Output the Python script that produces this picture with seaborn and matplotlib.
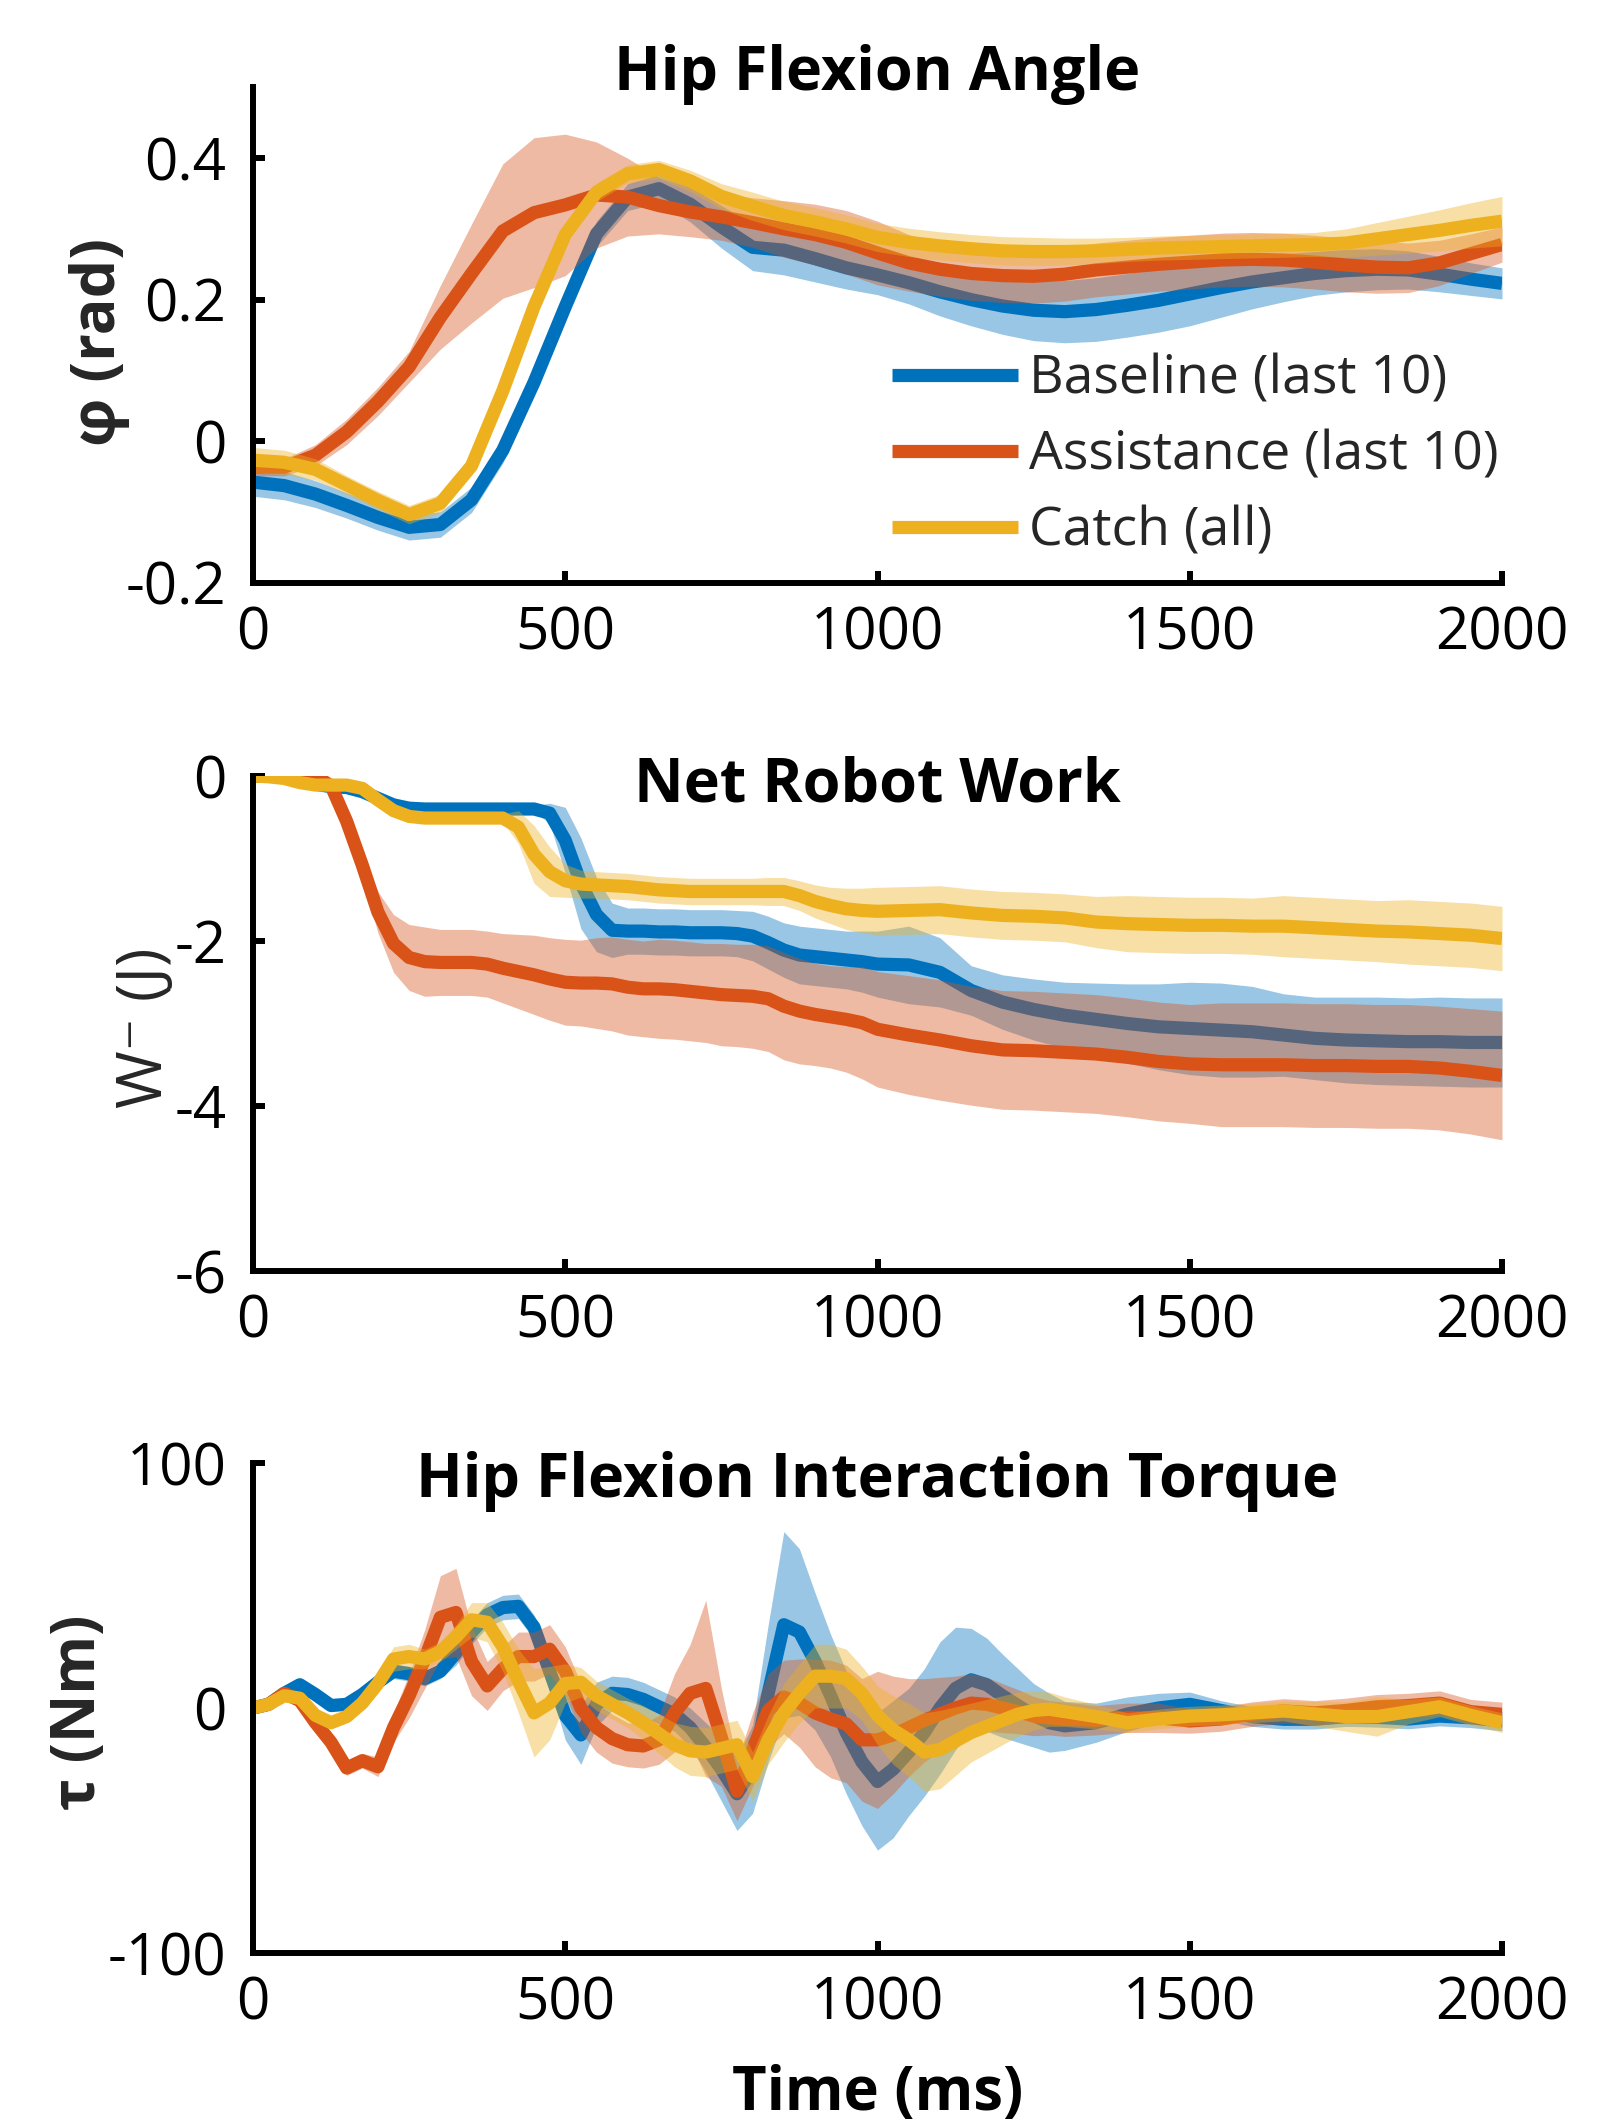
import matplotlib
matplotlib.use("Agg")
import matplotlib.pyplot as plt
import seaborn as sns
import numpy as np
import pandas as pd

# ---------------- data ----------------
series_names = ["Baseline (last 10)", "Assistance (last 10)", "Catch (all)"]

# Panel 1: hip flexion angle (rad)
t_angle = list(range(0, 2001, 50))
baseline_angle = [-0.058, -0.063, -0.075, -0.091, -0.108, -0.122, -0.118, -0.083, -0.013, 0.083,
                  0.190, 0.293, 0.345, 0.357, 0.335, 0.303, 0.274, 0.270, 0.258, 0.245,
                  0.235, 0.224, 0.211, 0.200, 0.191, 0.185, 0.183, 0.186, 0.192, 0.199,
                  0.208, 0.217, 0.225, 0.231, 0.237, 0.241, 0.243, 0.242, 0.236, 0.229,
                  0.223]
baseline_angle_sd = [0.020, 0.020, 0.019, 0.018, 0.018, 0.018, 0.018, 0.018, 0.018, 0.018,
                     0.018, 0.018, 0.019, 0.020, 0.025, 0.030, 0.033, 0.035, 0.033, 0.030,
                     0.028, 0.030, 0.034, 0.037, 0.040, 0.043, 0.044, 0.045, 0.045, 0.045,
                     0.045, 0.042, 0.038, 0.034, 0.031, 0.030, 0.029, 0.027, 0.025, 0.023,
                     0.022]
assist_angle = [-0.037, -0.037, -0.020, 0.013, 0.056, 0.105, 0.175, 0.237, 0.297, 0.323,
                0.334, 0.348, 0.345, 0.333, 0.324, 0.317, 0.309, 0.300, 0.292, 0.281,
                0.266, 0.252, 0.243, 0.237, 0.234, 0.233, 0.236, 0.242, 0.246, 0.250,
                0.253, 0.256, 0.257, 0.256, 0.253, 0.249, 0.246, 0.245, 0.252, 0.265,
                0.278]
assist_angle_sd = [0.012, 0.012, 0.015, 0.018, 0.020, 0.022, 0.045, 0.070, 0.095, 0.106,
                   0.100, 0.075, 0.055, 0.040, 0.035, 0.033, 0.035, 0.040, 0.043, 0.045,
                   0.045, 0.040, 0.038, 0.038, 0.038, 0.038, 0.038, 0.038, 0.038, 0.038,
                   0.038, 0.038, 0.038, 0.038, 0.038, 0.038, 0.037, 0.035, 0.032, 0.028,
                   0.025]
catch_angle = [-0.027, -0.030, -0.040, -0.062, -0.084, -0.104, -0.088, -0.035, 0.071, 0.190,
               0.292, 0.352, 0.378, 0.384, 0.368, 0.346, 0.332, 0.319, 0.310, 0.300,
               0.288, 0.281, 0.276, 0.272, 0.269, 0.268, 0.268, 0.269, 0.271, 0.273,
               0.274, 0.275, 0.276, 0.277, 0.278, 0.280, 0.286, 0.292, 0.298, 0.305,
               0.311]
catch_angle_sd = [0.018, 0.017, 0.015, 0.013, 0.013, 0.013, 0.013, 0.013, 0.013, 0.013,
                  0.013, 0.013, 0.013, 0.013, 0.015, 0.018, 0.020, 0.020, 0.020, 0.020,
                  0.020, 0.020, 0.020, 0.020, 0.020, 0.020, 0.019, 0.018, 0.017, 0.017,
                  0.017, 0.017, 0.017, 0.017, 0.017, 0.020, 0.023, 0.026, 0.029, 0.032,
                  0.035]

# Panel 2: net robot work (J)
t_work = list(range(0, 1001, 25)) + list(range(1050, 2001, 50))
baseline_work = [0.00, 0.00, -0.01, -0.04, -0.10, -0.13, -0.14, -0.19, -0.27, -0.35,
                 -0.39, -0.40, -0.40, -0.40, -0.40, -0.40, -0.40, -0.40, -0.40, -0.45,
                 -0.78, -1.30, -1.68, -1.87, -1.88, -1.88, -1.89, -1.89, -1.90, -1.90,
                 -1.90, -1.91, -1.94, -2.02, -2.11, -2.17, -2.19, -2.21, -2.23, -2.25,
                 -2.28,
                 -2.29, -2.38, -2.60, -2.74, -2.83, -2.90, -2.95, -3.00, -3.04,
                 -3.06, -3.08, -3.10, -3.14, -3.18, -3.20, -3.21, -3.22, -3.22, -3.23,
                 -3.23]
baseline_work_sd = [0.00, 0.01, 0.02, 0.03, 0.03, 0.03, 0.03, 0.04, 0.05, 0.05,
                    0.04, 0.03, 0.03, 0.03, 0.03, 0.03, 0.03, 0.03, 0.04, 0.12,
                    0.40, 0.55, 0.45, 0.33, 0.28, 0.28, 0.28, 0.28, 0.28, 0.28,
                    0.28, 0.28, 0.30, 0.32, 0.33, 0.35, 0.35, 0.35, 0.35, 0.37,
                    0.40,
                    0.47, 0.42, 0.30, 0.33, 0.37, 0.40, 0.44, 0.48, 0.52,
                    0.56, 0.57, 0.55, 0.50, 0.50, 0.52, 0.53, 0.53, 0.54, 0.54,
                    0.54]
assist_work = [0.00, 0.00, 0.00, 0.00, 0.00, -0.12, -0.55, -1.08, -1.65, -2.03,
               -2.20, -2.25, -2.26, -2.26, -2.26, -2.28, -2.33, -2.37, -2.41, -2.46,
               -2.50, -2.51, -2.51, -2.52, -2.56, -2.58, -2.58, -2.59, -2.61, -2.63,
               -2.65, -2.66, -2.67, -2.70, -2.79, -2.85, -2.89, -2.92, -2.95, -2.99,
               -3.07,
               -3.14, -3.20, -3.27, -3.32, -3.33, -3.35, -3.37, -3.41, -3.46,
               -3.49, -3.50, -3.50, -3.50, -3.51, -3.51, -3.52, -3.52, -3.54, -3.58,
               -3.63]
assist_work_sd = [0.02, 0.02, 0.02, 0.02, 0.02, 0.05, 0.10, 0.15, 0.25, 0.35,
                  0.40, 0.42, 0.40, 0.40, 0.40, 0.40, 0.42, 0.45, 0.48, 0.50,
                  0.52, 0.52, 0.55, 0.57, 0.58, 0.58, 0.60, 0.60, 0.60, 0.60,
                  0.62, 0.62, 0.63, 0.64, 0.65, 0.64, 0.62, 0.62, 0.64, 0.68,
                  0.70,
                  0.72, 0.73, 0.72, 0.72, 0.72, 0.72, 0.72, 0.72, 0.72,
                  0.72, 0.75, 0.75, 0.75, 0.75, 0.75, 0.75, 0.75, 0.75, 0.76,
                  0.78]
catch_work = [0.00, -0.01, -0.03, -0.08, -0.11, -0.11, -0.11, -0.15, -0.29, -0.42,
              -0.49, -0.51, -0.51, -0.51, -0.51, -0.51, -0.51, -0.62, -0.95, -1.16,
              -1.27, -1.31, -1.32, -1.33, -1.34, -1.36, -1.38, -1.39, -1.40, -1.40,
              -1.40, -1.40, -1.40, -1.40, -1.40, -1.45, -1.52, -1.57, -1.61, -1.63,
              -1.64,
              -1.63, -1.62, -1.66, -1.69, -1.70, -1.72, -1.77, -1.79, -1.80,
              -1.81, -1.81, -1.82, -1.82, -1.84, -1.86, -1.88, -1.89, -1.91, -1.93,
              -1.97]
catch_work_sd = [0.01, 0.02, 0.03, 0.03, 0.03, 0.03, 0.03, 0.03, 0.03, 0.03,
                 0.03, 0.03, 0.03, 0.03, 0.03, 0.03, 0.05, 0.20, 0.35, 0.30,
                 0.20, 0.17, 0.16, 0.16, 0.16, 0.16, 0.16, 0.16, 0.16, 0.16,
                 0.16, 0.16, 0.16, 0.17, 0.17, 0.18, 0.20, 0.22, 0.25, 0.27,
                 0.29,
                 0.29, 0.29, 0.29, 0.29, 0.29, 0.29, 0.31, 0.34, 0.34,
                 0.34, 0.34, 0.34, 0.37, 0.37, 0.37, 0.37, 0.39, 0.39, 0.39,
                 0.39]

# Panel 3: hip flexion interaction torque (Nm)
t_torque = list(range(0, 1301, 25)) + list(range(1350, 2001, 50))
baseline_torque = [0, 1.5, 6, 9.5, 5.5, 1, 1.5, 5.5, 10.5, 15,
                   14, 12, 15, 22.5, 31, 38, 41, 41.5, 33, 15,
                   -3, -11, 1.5, 6, 5.5, 3.5, 0.5, -2.5, -8, -16,
                   -25, -35, -25, 6, 34, 31, 19, 5, -10, -22,
                   -30, -25, -18, -10, 0, 8, 11.5, 9.5, 5, 1,
                   -3, -6, -7.3,
                   -6, -2.5, 0, 1.5, -1, -3.5, -4.6,
                   -4.6, -3.5, -3.8, -4.5, -3.3, -4, -5.3]
baseline_torque_sd = [1.5, 1.5, 1.5, 1.5, 1.5, 1.5, 1.5, 2, 3, 3,
                      3, 3, 3, 5, 5, 5, 5, 5, 5, 6,
                      10, 12, 9, 7, 7, 7, 7, 7, 8, 10,
                      13, 15, 18, 28, 38, 34, 28, 25, 25, 26,
                      28, 28, 26, 26, 27, 25, 21, 19, 17, 15,
                      13, 12, 10,
                      8, 7, 6, 5, 4, 4, 4,
                      4, 4, 4, 4, 4, 4, 4]
assist_torque = [0, 1.5, 6, 3, -6, -14, -24.5, -21.5, -24, -8,
                 5, 20, 37, 39, 19, 9, 16, 21, 21, 24,
                 15, 0, -8, -12.5, -15, -15.5, -13, -2, 6, 8,
                 -12, -34, -17, -1, 4.5, 2, -2, -4.5, -6.5, -13,
                 -13, -11, -8, -5, -2.5, 0, 2, 1.5, 0, -1.5,
                 -3.3, -4, -4.6,
                 -5, -4, -4, -5.3, -4.5, -2.5, -1.2,
                 -2, -1, 0.5, 1, 2, -1.5, -2.6]
assist_torque_sd = [2, 2, 2, 3, 4, 4, 3, 3, 4, 6,
                    9, 12, 17, 18, 14, 10, 9, 10, 10, 10,
                    10, 10, 10, 10, 9, 9, 10, 16, 20, 36,
                    20, 12, 15, 15, 15, 18, 22, 24, 24, 25,
                    28, 24, 20, 17, 15, 13, 12, 11, 10, 9,
                    8, 7, 7,
                    6, 6, 6, 5, 5, 5, 5,
                    5, 5, 5, 5, 5, 5, 5]
catch_torque = [0, 1.5, 5, 4, -3, -6, -3.5, 2, 10, 20,
                21, 20, 23, 29, 36, 35, 25, 11, -2, 2,
                10, 10.5, 5, 1.5, -2, -6, -10.5, -15, -17.5, -18,
                -16.5, -15, -28, -13, -2, 6, 13, 13, 12, 6,
                -3, -9, -13, -18, -17, -13.5, -10, -7.5, -5, -2.5,
                -1, -0.5, -1.5,
                -3.5, -6, -4.5, -3.3, -2.8, -2, -1.2,
                -2.4, -3.5, -3.5, -1.5, 0.5, -3, -6]
catch_torque_sd = [2, 2, 2, 2, 2, 2, 2, 3, 4, 5,
                   5, 4, 4, 5, 7, 8, 10, 13, 18, 15,
                   8, 6, 6, 6, 6, 7, 8, 9, 10, 10,
                   10, 10, 10, 10, 12, 12, 13, 13, 12, 11,
                   12, 14, 15, 16, 16, 14, 12, 11, 10, 9,
                   8, 7, 6,
                   5, 4, 4, 4, 4, 4, 4,
                   5, 6, 8, 5, 4, 4, 4]

titles = ["Hip Flexion Angle", "Net Robot Work", "Hip Flexion Interaction Torque"]
ylabels = ["φ (rad)", "W\u207b (J)", "τ (Nm)"]
xlabel = "Time (ms)"
x_ticks = [0, 500, 1000, 1500, 2000]
y_ticks = [[-0.2, 0, 0.2, 0.4], [-6, -4, -2, 0], [-100, 0, 100]]
y_ticklabels = [["-0.2", "0", "0.2", "0.4"], ["-6", "-4", "-2", "0"], ["-100", "0", "100"]]
y_limits = [(-0.2, 0.5), (-6, 0), (-100, 100)]

# ---------------- style ----------------
sns.set_theme(style="white")
plt.rcParams["font.family"] = ["Open Sans", "DejaVu Sans"]
plt.rcParams["axes.unicode_minus"] = False

colors = {"Baseline (last 10)": "#0072BD",
          "Assistance (last 10)": "#D95319",
          "Catch (all)": "#EDB120"}

FW, FH = 1614, 2124
fig = plt.figure(figsize=(FW / 100, FH / 100), dpi=100)
left, width = 253 / FW, 1249 / FW
ax1 = fig.add_axes([left, (FH - 582.5) / FH, width, 495 / FH])
ax2 = fig.add_axes([left, (FH - 1271) / FH, width, 495 / FH])
ax3 = fig.add_axes([left, (FH - 1953) / FH, width, 490 / FH])
axes = [ax1, ax2, ax3]

panels = [
    (t_angle, [(baseline_angle, baseline_angle_sd), (assist_angle, assist_angle_sd), (catch_angle, catch_angle_sd)]),
    (t_work, [(baseline_work, baseline_work_sd), (assist_work, assist_work_sd), (catch_work, catch_work_sd)]),
    (t_torque, [(baseline_torque, baseline_torque_sd), (assist_torque, assist_torque_sd), (catch_torque, catch_torque_sd)]),
]

LW = 9.5
for p, (ax, (t, data)) in enumerate(zip(axes, panels)):
    t = np.asarray(t, float)
    for i, (name, (m, s)) in enumerate(zip(series_names, data)):
        m = np.asarray(m, float)
        s = np.asarray(s, float)
        ax.fill_between(t, m - s, m + s, color=colors[name], alpha=0.4,
                        linewidth=0, zorder=1.1 + 0.2 * i)
        df = pd.DataFrame({"t": t, "v": m})
        sns.lineplot(data=df, x="t", y="v", color=colors[name], linewidth=LW,
                     ax=ax, zorder=1.2 + 0.2 * i, label=name,
                     solid_joinstyle="round", solid_capstyle="butt")
    leg = ax.get_legend()
    if leg is not None:
        leg.remove()

    ax.set_xlim(0, 2000)
    ax.set_ylim(*y_limits[p])
    ax.set_xticks(x_ticks)
    ax.set_xticklabels([str(v) for v in x_ticks])
    ax.set_yticks(y_ticks[p])
    ax.set_yticklabels(y_ticklabels[p])
    sns.despine(ax=ax)
    for sp in ["left", "bottom"]:
        ax.spines[sp].set_linewidth(4.3)
        ax.spines[sp].set_color("black")
    ax.tick_params(direction="in", length=8.6, width=4.3, labelsize=42,
                   colors="black", left=True, bottom=True)
    ax.tick_params(axis="x", pad=16)
    ax.tick_params(axis="y", pad=19)
    ax.set_xlabel("")
    ax.patch.set_alpha(0)

# titles
title_y = [0.995, 0.949, 0.931]
for ax, ttl, ty in zip(axes, titles, title_y):
    ax.text(0.5, ty, ttl, transform=ax.transAxes, ha="center", va="baseline",
            fontsize=44, fontweight="bold", color="black", zorder=10)

# y labels
ylab_x = [-0.0985, -0.061, -0.1145]
ylab_y = [0.486, 0.491, 0.492]
ylab_w = ["bold", "normal", "bold"]
ylab_s = [44, 45, 43]
for ax, lab, lx, ly, lw, ls in zip(axes, ylabels, ylab_x, ylab_y, ylab_w, ylab_s):
    ax.set_ylabel(lab, fontsize=ls, fontweight=lw, color="#262626")
    ax.yaxis.set_label_coords(lx, ly)

ax3.text(0.5, -0.320, xlabel, transform=ax3.transAxes, ha="center", va="baseline",
         fontsize=43, fontweight="bold", color="black")

# legend in first panel (lines only)
handles = [l for l in ax1.get_lines()][:3]
ax1.legend(handles, series_names, loc="upper left", bbox_to_anchor=(0.512, 0.463),
           frameon=False, fontsize=38.5, handlelength=2.35, handletextpad=0.2,
           labelspacing=0.42, borderaxespad=0, borderpad=0)

fig.savefig("out.png", dpi=100)
